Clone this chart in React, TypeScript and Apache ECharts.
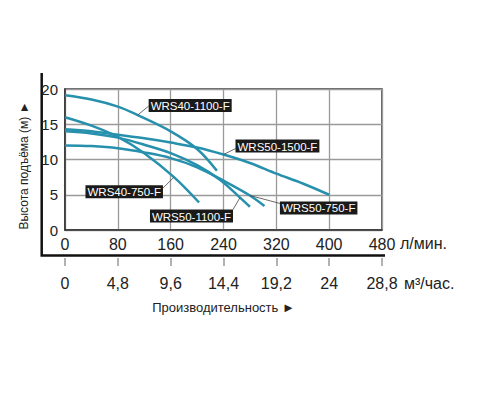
import { useEffect, useRef } from 'react'
import * as echarts from 'echarts'

// л/мин. -> напор (м)
const names = ['WRS40-1100-F', 'WRS40-750-F', 'WRS50-1500-F', 'WRS50-1100-F', 'WRS50-750-F']

const flow40_1100 = [0, 40, 80, 110, 160, 200, 230]
const head40_1100 = [19.1, 18.5, 17.5, 16.3, 14.0, 11.5, 8.4]

const flow40_750 = [0, 40, 80, 120, 165, 203]
const head40_750 = [16.0, 14.8, 13.2, 10.9, 7.5, 3.9]

const flow50_1500 = [0, 40, 80, 120, 160, 200, 240, 280, 320, 360, 400]
const head50_1500 = [14.3, 14.0, 13.5, 13.0, 12.4, 11.7, 10.7, 9.5, 8.0, 6.6, 5.0]

const flow50_1100 = [0, 40, 80, 120, 160, 200, 235, 265, 280]
const head50_1100 = [14.0, 13.7, 13.1, 12.1, 10.9, 9.2, 7.1, 4.6, 3.3]

const flow50_750 = [0, 40, 80, 120, 160, 200, 240, 280, 302]
const head50_750 = [12.0, 11.9, 11.6, 11.0, 10.2, 8.9, 7.0, 4.9, 3.4]

// second axis, м³/час.
const cubicLabels = ['0', '4,8', '9,6', '14,4', '19,2', '24', '28,8']

// which point of each curve the label's leader touches
const anchorIndex = [3, 4, 6, 7, 7]

const FONT = '"Liberation Sans", Arial, sans-serif'
const LINE = '#2790ad'
const TEXT = '#222'

// label box placement relative to anchor: [box x, box y, align, leader end x, leader end y]
const labelPlace: [number, number, 'left' | 'right', number, number][] = [
  [11, -16, 'left', 11, -9],
  [-11, 8, 'right', -11, 11],
  [12, -15, 'left', 12, -6],
  [-7, 12, 'right', -7, 12],
  [30, 6, 'left', 30, 8],
]

const zip = (xs: number[], ys: number[]) => xs.map((x, i) => [x, ys[i]])
const curves = [
  zip(flow40_1100, head40_1100),
  zip(flow40_750, head40_750),
  zip(flow50_1500, head50_1500),
  zip(flow50_1100, head50_1100),
  zip(flow50_750, head50_750),
]

export default function App() {
  const ref = useRef<HTMLDivElement>(null)

  useEffect(() => {
    if (!ref.current) return
    const chart = echarts.init(ref.current, null, { renderer: 'svg' })

    chart.setOption({
      animation: false,
      textStyle: { fontFamily: FONT },
      grid: {
        left: 65,
        right: 118,
        top: 89,
        bottom: 170,
        show: true,
        borderColor: '#333',
        borderWidth: 1.5,
      },
      xAxis: [
        {
          type: 'value',
          min: 0,
          max: 480,
          interval: 80,
          position: 'bottom',
          name: 'л/мин.',
          nameLocation: 'end',
          nameGap: 18,
          nameTextStyle: { color: TEXT, fontSize: 16, fontFamily: FONT, verticalAlign: 'top', padding: [5, 0, 0, 0] },
          axisLine: { show: true, lineStyle: { color: '#333', width: 1.5 } },
          axisTick: { show: false },
          axisLabel: { color: TEXT, fontSize: 16, fontFamily: FONT, margin: 6 },
          splitLine: { show: true, lineStyle: { color: '#9a9a9a', width: 1.3 } },
        },
        {
          type: 'category',
          data: cubicLabels,
          boundaryGap: false,
          position: 'bottom',
          offset: 28,
          name: 'Производительность ►',
          nameLocation: 'middle',
          nameGap: 43,
          nameTextStyle: { color: TEXT, fontSize: 13, fontFamily: FONT },
          axisLine: { show: false },
          axisTick: { show: true, length: 8, lineStyle: { color: '#999', width: 1.5 } },
          axisLabel: { color: TEXT, fontSize: 16, fontFamily: FONT, margin: 17 },
          splitLine: { show: false },
        },
      ],
      yAxis: {
        type: 'value',
        min: 0,
        max: 20,
        interval: 5,
        name: 'Высота подъёма (м) ►',
        nameLocation: 'middle',
        nameGap: 32,
        nameTextStyle: { color: TEXT, fontSize: 12, fontFamily: FONT, padding: [0, 12, 0, 0] },
        axisLine: { show: true, lineStyle: { color: '#333', width: 1.5 } },
        axisTick: { show: false },
        axisLabel: { color: TEXT, fontSize: 15, fontFamily: FONT, margin: 7 },
        splitLine: { show: true, lineStyle: { color: '#9a9a9a', width: 1.3 } },
      },
      series: curves.map((data, i) => ({
        name: names[i],
        type: 'line',
        xAxisIndex: 0,
        yAxisIndex: 0,
        data,
        smooth: 0.35,
        symbol: 'none',
        lineStyle: { color: LINE, width: 2.5 },
        z: 3,
      })),
    })

    // units, frame and label boxes, placed through the chart's own scales
    const elements: any[] = []
    curves.forEach((data, i) => {
      const [ax, ay] = chart.convertToPixel({ seriesIndex: i }, data[anchorIndex[i]]) as number[]
      const [bx, by, align, lx, ly] = labelPlace[i]
      elements.push({
        type: 'line',
        z: 50,
        shape: { x1: ax, y1: ay, x2: ax + lx, y2: ay + ly },
        style: { stroke: '#444', lineWidth: 0.8 },
      })
      elements.push({
        type: 'text',
        z: 60,
        x: ax + bx,
        y: ay + by,
        style: {
          text: names[i],
          fill: '#fff',
          backgroundColor: '#1a1a1a',
          padding: [1, 2, 0, 2],
          font: `11.5px ${FONT}`,
          align,
          verticalAlign: 'top',
        },
      })
    })

    const [xEnd, yBase] = chart.convertToPixel({ seriesIndex: 0 }, [480, 0]) as number[]
    elements.push({
      type: 'text',
      x: xEnd + 22,
      y: yBase + 53,
      style: { text: 'м³/час.', fill: TEXT, font: `16px ${FONT}`, verticalAlign: 'middle' },
    })
    elements.push({
      type: 'polyline',
      shape: { points: [[41.7, 73], [41.7, 255.5], [385, 255.5]] },
      style: { stroke: '#111', lineWidth: 2.5, fill: null },
    })

    chart.setOption({ graphic: elements })

    return () => chart.dispose()
  }, [])

  return <div ref={ref} style={{ position: 'fixed', left: 0, top: 0, width: 500, height: 400, background: '#fff' }} />
}
